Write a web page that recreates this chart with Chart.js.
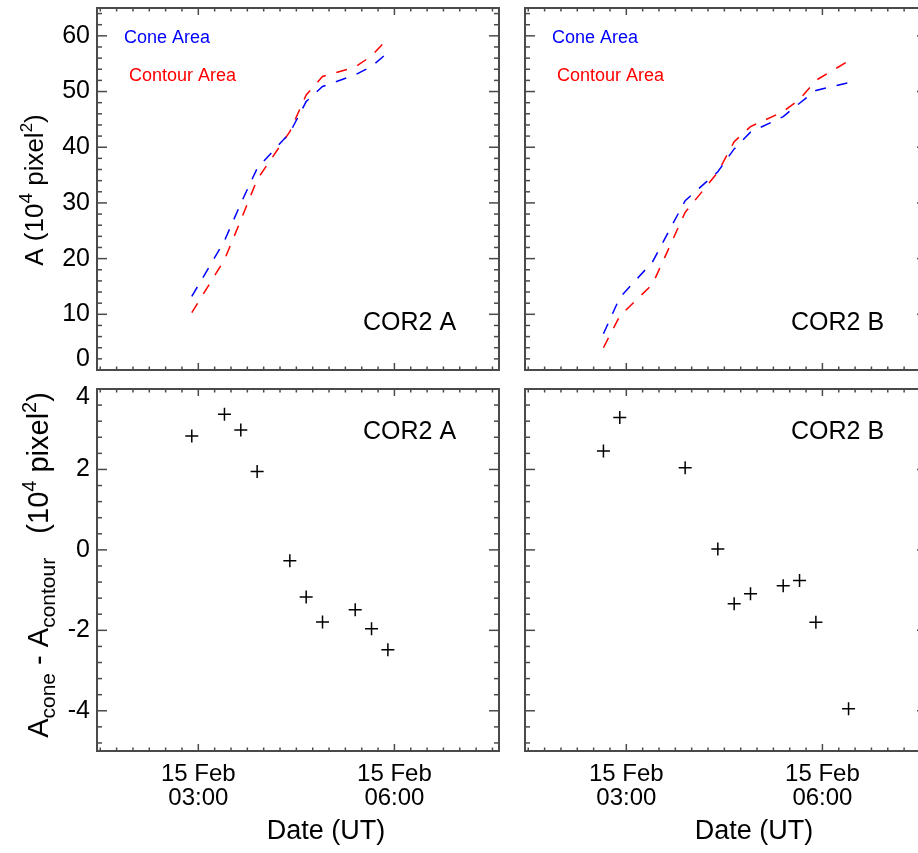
<!DOCTYPE html>
<html>
<head>
<meta charset="utf-8">
<script src="https://cdn.jsdelivr.net/npm/chart.js@4.4.1/dist/chart.umd.min.js"></script>
<style>
  html, body { margin: 0; padding: 0; background: #fff; overflow: hidden; }
  #wrap { position: relative; width: 918px; height: 853px; overflow: hidden; background: #fff; }
  canvas { position: absolute; left: 0; top: 0; }
</style>
</head>
<body>
<div id="wrap">
  <canvas id="tl" width="940" height="853"></canvas>
  <canvas id="tr" width="940" height="853"></canvas>
  <canvas id="bl" width="940" height="853"></canvas>
  <canvas id="br" width="940" height="853"></canvas>
</div>
<script>
// UT times on 15 Feb, areas in 10^4 pixel^2
const timesA = ['02:54', '03:24', '03:39', '03:54', '04:24', '04:39', '04:54', '05:24', '05:39', '05:54'];
const coneA = [13.2, 23.2, 29.9, 36.2, 42.6, 48.2, 50.9, 53.0, 54.5, 57.0];
const contourA = [10.3, 19.8, 26.9, 34.2, 42.8, 49.4, 52.7, 54.4, 56.4, 59.5];
const diffA = [2.83, 3.37, 2.98, 1.95, -0.27, -1.17, -1.79, -1.49, -1.96, -2.48];

const areaTimesB = ['02:39', '02:54', '03:24', '03:54', '04:24', '04:39', '04:54', '05:24', '05:39', '05:54', '06:24'];
const coneB = [6.5, 13.0, 19.4, 30.4, 35.6, 39.7, 42.7, 45.5, 47.9, 50.2, 51.6];
const contourB = [4.0, 9.7, 15.4, 28.3, 35.5, 41.0, 43.7, 46.4, 48.6, 52.0, 55.5];
const diffTimesB = ['02:39', '02:54', '03:54', '04:24', '04:39', '04:54', '05:24', '05:39', '05:54', '06:24'];
const diffB = [2.46, 3.29, 2.04, 0.02, -1.34, -1.09, -0.89, -0.76, -1.80, -3.95];

const xRange = ['01:27', '07:36'];
const xMajor = ['03:00', '06:00'];
const areaTicks = [0, 10, 20, 30, 40, 50, 60];
const diffTicks = [-4, -2, 0, 2, 4];

const FONT = '"Liberation Sans", Arial, Helvetica, sans-serif';
Chart.defaults.font.family = FONT;
Chart.defaults.color = '#000';

const toMin = s => { const [h, m] = s.split(':').map(Number); return h * 60 + m; };
const hhmm = v => String(Math.floor(v / 60)).padStart(2, '0') + ':' + String(Math.round(v % 60)).padStart(2, '0');
const pts = (times, vals) => times.map((t, i) => ({ x: toMin(t), y: vals[i] }));

const X_MIN = toMin(xRange[0]), X_MAX = toMin(xRange[1]);
const X_MAJOR = xMajor.map(toMin);

function richText(ctx, parts, x, y) {
  ctx.save();
  ctx.translate(x, y);
  ctx.rotate(-Math.PI / 2);
  ctx.textAlign = 'left';
  ctx.textBaseline = 'alphabetic';
  ctx.fillStyle = '#000';
  let w = 0;
  parts.forEach(p => { ctx.font = p.s + 'px ' + FONT; p.w = ctx.measureText(p.t).width; w += p.w; });
  let cx = -w / 2;
  parts.forEach(p => { ctx.font = p.s + 'px ' + FONT; ctx.fillText(p.t, cx, p.dy || 0); cx += p.w; });
  ctx.restore();
}

const idlFrame = {
  id: 'idlFrame',
  afterDraw(chart, args, o) {
    const { ctx, chartArea: a, scales: { x, y } } = chart;
    const seg = (x1, y1, x2, y2) => { ctx.beginPath(); ctx.moveTo(x1, y1); ctx.lineTo(x2, y2); ctx.stroke(); };
    ctx.save();
    ctx.strokeStyle = '#4a4a4a';
    ctx.lineWidth = 1.5;
    // x ticks every 15 min, pointing inward on top and bottom
    for (let v = Math.ceil(X_MIN / 15) * 15; v <= X_MAX; v += 15) {
      const len = X_MAJOR.includes(v) ? 7 : 3.5;
      const px = x.getPixelForValue(v);
      seg(px, a.bottom, px, a.bottom - len);
      seg(px, a.top, px, a.top + len);
    }
    // y ticks, inward on left and right
    const step = o.yMinor;
    for (let k = Math.ceil(y.min / step - 1e-9); k * step <= y.max + 1e-9; k++) {
      const v = k * step;
      const len = y.ticks.some(t => Math.abs(t.value - v) < 1e-6) ? 10 : 5;
      const py = y.getPixelForValue(v);
      seg(a.left, py, a.left + len, py);
      seg(a.right, py, a.right - len, py);
    }
    ctx.lineWidth = 2;
    ctx.strokeRect(a.left, a.top, a.right - a.left, a.bottom - a.top);

    ctx.fillStyle = '#000';
    // y tick labels, kept inside the frame at the ends like IDL does
    if (o.yLabels) {
      ctx.font = '25px ' + FONT;
      ctx.textAlign = 'right';
      ctx.textBaseline = 'middle';
      y.ticks.forEach(t => {
        const py = Math.min(Math.max(y.getPixelForValue(t.value), a.top + 8), a.bottom - 11);
        ctx.fillText(String(t.value), a.left - 7, py);
      });
    }

    ctx.textBaseline = 'middle';
    ctx.textAlign = 'left';
    ctx.font = '25px ' + FONT;
    ctx.fillText(o.label, a.left + 266, o.labelY);
    if (o.legend) {
      ctx.font = '18px ' + FONT;
      ctx.fillStyle = '#0000ff';
      ctx.fillText('Cone Area', a.left + 27, 38);
      ctx.fillStyle = '#ff0000';
      ctx.fillText('Contour Area', a.left + 32, 76);
    }
    if (o.xTitle) {
      ctx.fillStyle = '#000';
      ctx.textAlign = 'center';
      ctx.font = '27px ' + FONT;
      ctx.fillText('Date (UT)', (a.left + a.right) / 2 + 28, 832);
    }
    if (o.yTitle === 'area') {
      richText(ctx, [
        { t: 'A (10', s: 26 }, { t: '4', s: 19, dy: -11 },
        { t: ' pixel', s: 26 }, { t: '2', s: 17, dy: -11 }, { t: ')', s: 26 }
      ], 43, 190);
    } else if (o.yTitle === 'diff') {
      richText(ctx, [
        { t: 'A', s: 29 }, { t: 'cone', s: 21, dy: 7 },
        { t: ' - A', s: 29 }, { t: 'contour', s: 21, dy: 7 },
        { t: '   (10', s: 29 }, { t: '4', s: 20, dy: -12 },
        { t: ' pixel', s: 29 }, { t: '2', s: 20, dy: -12 }, { t: ')', s: 29 }
      ], 48, 565);
    }
    ctx.restore();
  }
};

function makePanel(id, box, yMin, yMax, yMajor, showX, datasets, deco) {
  const cv = document.getElementById(id);
  const [l, t, r, b] = box;
  return new Chart(cv, {
    type: 'line',
    data: { datasets },
    options: {
      responsive: false,
      animation: false,
      devicePixelRatio: 1,
      events: [],
      layout: { padding: { left: 0, top: t, right: cv.width - r, bottom: 0 } },
      plugins: { legend: { display: false }, tooltip: { enabled: false }, idlFrame: deco },
      scales: {
        x: {
          type: 'linear', min: X_MIN, max: X_MAX,
          afterBuildTicks: s => { s.ticks = X_MAJOR.map(v => ({ value: v })); },
          afterFit: s => { s.height = cv.height - b; s.paddingLeft = 0; s.paddingRight = 0; },
          grid: { display: false, drawTicks: false },
          border: { display: false },
          ticks: {
            display: showX, autoSkip: false, maxRotation: 0, minRotation: 0, padding: 11,
            font: { size: 24, lineHeight: 1.0 },
            callback: v => ['15 Feb', hhmm(v)]
          }
        },
        y: {
          type: 'linear', min: yMin, max: yMax,
          afterBuildTicks: s => { s.ticks = yMajor.map(v => ({ value: v })); },
          afterFit: s => { s.width = l; s.paddingTop = 0; s.paddingBottom = 0; },
          grid: { display: false, drawTicks: false },
          border: { display: false },
          ticks: { display: false }
        }
      }
    },
    plugins: [idlFrame]
  });
}

const dashed = (data, color) => ({
  data, borderColor: color, borderWidth: 1.5, borderDash: [11, 11],
  pointRadius: 0, fill: false, tension: 0
});
const crosses = data => ({
  data, showLine: false, pointStyle: 'cross', pointRadius: 6.5,
  pointBorderWidth: 1.5, borderColor: '#000', pointBorderColor: '#000'
});

makePanel('tl', [97, 8, 499, 370], 0, 65, areaTicks, false,
  [dashed(pts(timesA, coneA), '#0000ff'), dashed(pts(timesA, contourA), '#ff0000')],
  { yMinor: 2, yLabels: true, label: 'COR2 A', labelY: 323, legend: true, yTitle: 'area' });

makePanel('tr', [525, 8, 927, 370], 0, 65, areaTicks, false,
  [dashed(pts(areaTimesB, coneB), '#0000ff'), dashed(pts(areaTimesB, contourB), '#ff0000')],
  { yMinor: 2, yLabels: false, label: 'COR2 B', labelY: 323, legend: true });

makePanel('bl', [97, 389, 499, 751], -5, 4, diffTicks, true,
  [crosses(pts(timesA, diffA))],
  { yMinor: 0.4, yLabels: true, label: 'COR2 A', labelY: 432, xTitle: true, yTitle: 'diff' });

makePanel('br', [525, 389, 927, 751], -5, 4, diffTicks, true,
  [crosses(pts(diffTimesB, diffB))],
  { yMinor: 0.4, yLabels: false, label: 'COR2 B', labelY: 432, xTitle: true });
</script>
</body>
</html>
